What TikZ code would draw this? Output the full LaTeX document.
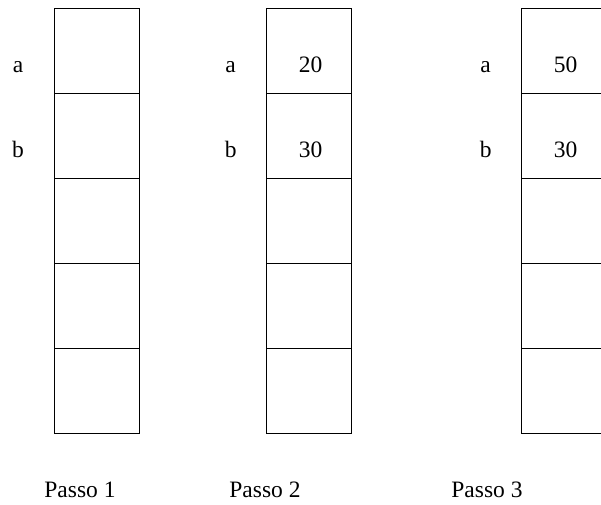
\documentclass[tikz,border=0pt]{standalone}
\usepackage{fontspec}
\setmainfont{Liberation Serif}
\usetikzlibrary{positioning}

\tikzset{
 cell/.style={draw, line width=0.7pt, minimum width=85pt, minimum height=85pt, inner sep=0pt, outer sep=0pt},
 txt/.style={anchor=base, inner sep=0pt}
}

\begin{document}
\begin{tikzpicture}[x=1pt, y=1pt, font=\fontsize{23.5}{28}\selectfont]
 \useasboundingbox (0,0) rectangle (601,-504);

 % columns of memory cells, one per step
 \foreach \s/\x in {1/54, 2/266.7, 3/521.7} {
   \node[cell, anchor=north west] (s\s-c1) at (\x,-8) {};
   \foreach \i [evaluate=\i as \j using int(\i-1)] in {2,...,5}
     \node[cell, below=0pt of s\s-c\j] (s\s-c\i) {};
   \node[txt] (s\s-a) at ([xshift=-36pt, yshift=-21.5pt]s\s-c1.west) {a};
   \node[txt] (s\s-b) at ([xshift=-36pt, yshift=-21.5pt]s\s-c2.west) {b};
 }

 % values
 \node[txt] (v2a) at ([xshift=1.5pt, yshift=-21.5pt]s2-c1.center) {20};
 \node[txt] (v2b) at ([xshift=1.5pt, yshift=-21.5pt]s2-c2.center) {30};
 \node[txt] (v3a) at ([xshift=1.5pt, yshift=-21.5pt]s3-c1.center) {50};
 \node[txt] (v3b) at ([xshift=1.5pt, yshift=-21.5pt]s3-c2.center) {30};

 % step captions
 \node[txt] (p1) at (80,-497) {Passo 1};
 \node[txt] (p2) at (265,-497) {Passo 2};
 \node[txt] (p3) at (487,-497) {Passo 3};
\end{tikzpicture}
\end{document}
